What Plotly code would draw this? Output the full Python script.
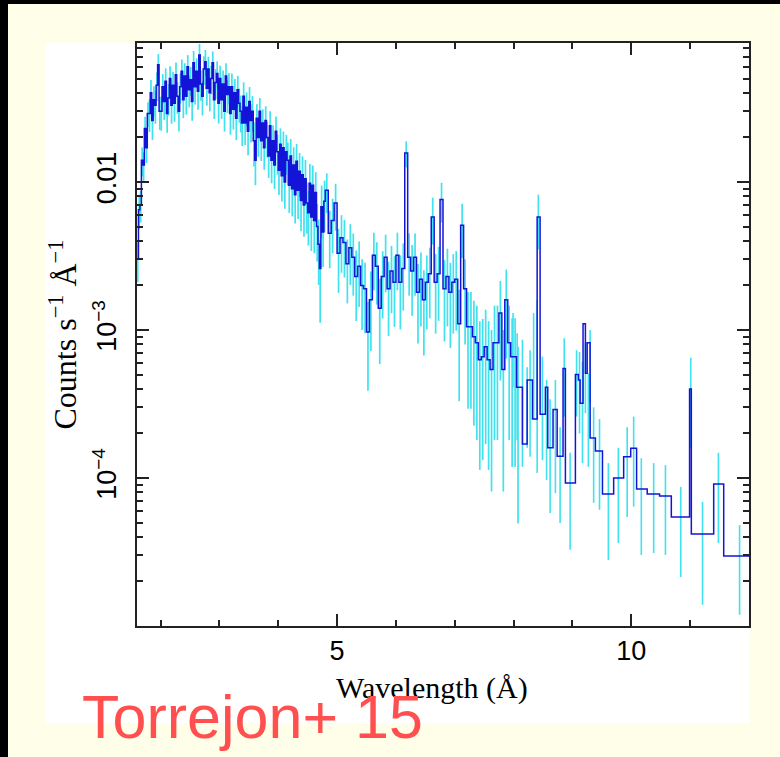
import plotly.graph_objects as go

# ---------------- data ----------------
# bin edges in Angstrom (last entry = right edge of the last bin)
bin_edges = [
    1.600, 1.625, 1.650, 1.675, 1.700, 1.725, 1.750, 1.775,
    1.800, 1.825, 1.850, 1.875, 1.900, 1.925, 1.950, 1.975,
    2.000, 2.025, 2.050, 2.075, 2.100, 2.125, 2.150, 2.175,
    2.200, 2.225, 2.250, 2.275, 2.300, 2.325, 2.350, 2.375,
    2.400, 2.425, 2.450, 2.475, 2.500, 2.525, 2.550, 2.575,
    2.600, 2.625, 2.650, 2.675, 2.700, 2.725, 2.750, 2.775,
    2.800, 2.825, 2.850, 2.875, 2.900, 2.925, 2.950, 2.975,
    3.000, 3.025, 3.050, 3.075, 3.100, 3.125, 3.150, 3.175,
    3.200, 3.225, 3.250, 3.275, 3.300, 3.325, 3.350, 3.375,
    3.400, 3.425, 3.450, 3.475, 3.500, 3.525, 3.550, 3.575,
    3.600, 3.625, 3.650, 3.675, 3.700, 3.725, 3.750, 3.775,
    3.800, 3.825, 3.850, 3.875, 3.900, 3.925, 3.950, 3.975,
    4.000, 4.025, 4.050, 4.075, 4.100, 4.125, 4.150, 4.175,
    4.200, 4.225, 4.250, 4.275, 4.300, 4.325, 4.350, 4.375,
    4.400, 4.425, 4.450, 4.475, 4.500, 4.525, 4.550, 4.575,
    4.600, 4.625, 4.650, 4.675, 4.700, 4.725, 4.750, 4.775,
    4.80, 4.85, 4.90, 4.95, 5.00, 5.05,
    5.10, 5.15, 5.20, 5.25, 5.30, 5.35, 5.40, 5.45, 5.50, 5.55,
    5.60, 5.65, 5.70, 5.75, 5.80, 5.85, 5.90, 5.95, 6.00, 6.05,
    6.10, 6.15, 6.20, 6.25, 6.30, 6.35, 6.40, 6.45, 6.50, 6.55,
    6.60, 6.65, 6.70, 6.75, 6.80, 6.85, 6.90, 6.95, 7.00, 7.05,
    7.10, 7.15, 7.20, 7.25, 7.30, 7.35, 7.40, 7.45, 7.50, 7.55,
    7.60, 7.65, 7.70, 7.75, 7.80, 7.85, 7.90, 7.95, 8.00, 8.05,
    8.10, 8.15, 8.23, 8.32, 8.40, 8.45, 8.54, 8.58, 8.67, 8.74,
    8.84, 8.88, 9.05, 9.10, 9.13, 9.18, 9.22, 9.25, 9.30, 9.39,
    9.51, 9.70, 9.87, 9.99, 10.09, 10.27, 10.48, 10.68, 10.99, 11.02,
    11.40, 11.57, 12.00,
]

# binned count rate per bin (counts s^-1 A^-1)
bin_counts = [
    0.0030, 0.0065, 0.0070, 0.0140, 0.0130, 0.0230, 0.0170, 0.0290,
    0.0290, 0.0400, 0.0260, 0.0360, 0.0330, 0.0450, 0.0620, 0.0300,
    0.0300, 0.0440, 0.0350, 0.0480, 0.0290, 0.0370, 0.0500, 0.0330,
    0.0450, 0.0340, 0.0530, 0.0380, 0.0300, 0.0440, 0.0560, 0.0360,
    0.0520, 0.0380, 0.0600, 0.0420, 0.0490, 0.0350, 0.0640, 0.0440,
    0.0560, 0.0410, 0.0720, 0.0460, 0.0380, 0.0580, 0.0650, 0.0430,
    0.0580, 0.0400, 0.0500, 0.0640, 0.0360, 0.0470, 0.0540, 0.0340,
    0.0500, 0.0360, 0.0460, 0.0300, 0.0520, 0.0390, 0.0440, 0.0290,
    0.0440, 0.0310, 0.0400, 0.0270, 0.0420, 0.0340, 0.0300, 0.0250,
    0.0380, 0.0250, 0.0320, 0.0220, 0.0350, 0.0260, 0.0300, 0.0190,
    0.0140, 0.0270, 0.0200, 0.0300, 0.0190, 0.0250, 0.0170, 0.0260,
    0.0200, 0.0150, 0.0240, 0.0140, 0.0190, 0.0130, 0.0220, 0.0160,
    0.0120, 0.0180, 0.0110, 0.0170, 0.0100, 0.0160, 0.0140, 0.0095,
    0.0150, 0.0090, 0.0130, 0.0082, 0.0138, 0.0088, 0.0118, 0.0075,
    0.0112, 0.0070, 0.0105, 0.0072, 0.0062, 0.0098, 0.0058, 0.0095,
    0.0055, 0.0085, 0.0050, 0.0038, 0.0026, 0.0068, 0.0046, 0.0074,
    0.0088, 0.0045, 0.0055, 0.0072, 0.0033, 0.0042,
    0.0039, 0.0028, 0.0036, 0.0031, 0.0023, 0.0027, 0.0020, 0.0019, 0.00097, 0.0016,
    0.0032, 0.0027, 0.0014, 0.0023, 0.0031, 0.0019, 0.0025, 0.0021, 0.0032, 0.0021,
    0.0026, 0.0157, 0.0031, 0.0025, 0.0031, 0.0018, 0.0022, 0.0016, 0.0021, 0.0024,
    0.0058, 0.0021, 0.0024, 0.0076, 0.0019, 0.0023, 0.0018, 0.0021, 0.0022, 0.0011,
    0.0051, 0.0019, 0.00105, 0.00105, 0.0009, 0.00082, 0.00063, 0.00066, 0.00077, 0.00063,
    0.00054, 0.00082, 0.00082, 0.0013, 0.00054, 0.0016, 0.00082, 0.00066, 0.00066, 0.00041,
    0.00041, 0.00017, 0.00046, 0.00025, 0.0058, 0.00027, 0.00041, 0.00016, 0.00029, 0.00014,
    0.00055, 0.0000925, 0.0005, 0.00046, 0.00032, 0.0011, 0.00051, 0.00082, 0.000186, 0.000152,
    0.000078, 0.0001, 0.000139, 0.000159, 0.0000843, 0.000078, 0.0000756, 0.0000545, 0.0004, 0.0000419,
    0.0000911, 0.0000297,
]

# relative 1-sigma error of the finely binned part (first 194 bins, up to 8.10 A)
bin_rel_err = [
    0.30, 0.26, 0.24, 0.22, 0.22, 0.20, 0.21, 0.19,
    0.25, 0.22, 0.26, 0.23, 0.25, 0.22, 0.18, 0.25,
    0.26, 0.22, 0.25, 0.22, 0.26, 0.24, 0.21, 0.25,
    0.23, 0.25, 0.21, 0.24, 0.27, 0.23, 0.20, 0.25,
    0.22, 0.25, 0.20, 0.24, 0.22, 0.26, 0.20, 0.24,
    0.22, 0.25, 0.19, 0.23, 0.26, 0.22, 0.20, 0.24,
    0.21, 0.25, 0.22, 0.19, 0.26, 0.23, 0.21, 0.27,
    0.22, 0.26, 0.23, 0.27, 0.22, 0.25, 0.24, 0.28,
    0.23, 0.27, 0.24, 0.29, 0.24, 0.26, 0.28, 0.30,
    0.24, 0.29, 0.26, 0.31, 0.25, 0.29, 0.27, 0.33,
    0.32, 0.24, 0.26, 0.23, 0.27, 0.24, 0.29, 0.25,
    0.27, 0.29, 0.25, 0.30, 0.27, 0.31, 0.26, 0.30,
    0.32, 0.28, 0.33, 0.29, 0.34, 0.30, 0.32, 0.35,
    0.30, 0.35, 0.32, 0.36, 0.31, 0.36, 0.33, 0.38,
    0.33, 0.39, 0.34, 0.38, 0.40, 0.35, 0.41, 0.36,
    0.40, 0.37, 0.42, 0.47, 0.57, 0.39, 0.42, 0.38,
    0.30, 0.42, 0.40, 0.35, 0.46, 0.42,
    0.42, 0.46, 0.44, 0.45, 0.50, 0.47, 0.50, 0.50, 0.60, 0.55,
    0.42, 0.45, 0.58, 0.48, 0.42, 0.52, 0.48, 0.50, 0.42, 0.52,
    0.48, 0.20, 0.45, 0.50, 0.45, 0.55, 0.52, 0.58, 0.52, 0.50,
    0.35, 0.55, 0.52, 0.30, 0.56, 0.54, 0.58, 0.55, 0.55, 0.70,
    0.40, 0.58, 0.72, 0.72, 0.75, 0.78, 0.82, 0.80, 0.78, 0.82,
    0.85, 0.78, 0.78, 0.65, 0.85, 0.60, 0.78, 0.82, 0.82, 0.88,
]

# individual data points at long wavelengths: lower / upper error limits
point_wl = [7.99, 8.06, 8.15, 8.23, 8.28, 8.34, 8.40, 8.42, 8.49, 8.56,
            8.62, 8.71, 8.79, 8.86, 8.96, 9.07, 9.12, 9.17, 9.22, 9.27,
            9.30, 9.36, 9.46, 9.61, 9.78, 9.93, 10.04, 10.17, 10.38, 10.58,
            10.84, 11.01, 11.21, 11.48, 11.84]
point_lo = [4.1e-4, 1.8e-4, 1.19e-4, 1.6e-4, 1.39e-4, 2.5e-4, 1.08e-4, 3.5e-3, 1.32e-4, 9.7e-5,
            5.8e-5, 7.9e-5, 4.97e-5, 2.6e-4, 3.27e-5, 2.6e-4, 2.0e-4, 1.26e-4, 2.75e-4, 1.19e-4,
            3.2e-4, 6.8e-5, 6.1e-5, 2.79e-5, 3.64e-5, 5.45e-5, 6.4e-5, 3.02e-5, 3.11e-5, 3.02e-5,
            2.14e-5, 1.6e-4, 1.39e-5, 3.64e-5, 1.19e-5]
point_hi = [1.30e-3, 9.5e-4, 8.6e-4, 5.6e-4, 7.3e-4, 1.30e-3, 1.6e-3, 8.2e-3, 6.6e-4, 4.6e-4,
            3.4e-4, 4.6e-4, 2.2e-4, 8.8e-4, 1.48e-4, 7.3e-4, 7.1e-4, 6.1e-4, 8.2e-4, 5.1e-4,
            1.0e-3, 3.0e-4, 2.5e-4, 1.26e-4, 1.6e-4, 2.2e-4, 2.6e-4, 1.36e-4, 1.26e-4, 1.22e-4,
            8.7e-5, 6.5e-4, 6.9e-5, 1.48e-4, 4.81e-5]

x_tick_vals = [5, 10]
x_tick_text = ["5", "10"]
x_minor_vals = [2, 3, 4, 6, 7, 8, 9, 11]
y_tick_vals = [1e-4, 1e-3, 1e-2]
y_tick_text = ["10<sup>\u22124</sup>", "10<sup>\u22123</sup>", "0.01"]
y_minor_vals = [2e-5, 3e-5, 4e-5, 5e-5, 6e-5, 7e-5, 8e-5, 9e-5,
                2e-4, 3e-4, 4e-4, 5e-4, 6e-4, 7e-4, 8e-4, 9e-4,
                2e-3, 3e-3, 4e-3, 5e-3, 6e-3, 7e-3, 8e-3, 9e-3,
                2e-2, 3e-2, 4e-2, 5e-2, 6e-2, 7e-2, 8e-2]

# ---------------- derived for plotting ----------------
n_fine = len(bin_rel_err)
fine_centers = [(bin_edges[i] + bin_edges[i + 1]) / 2 for i in range(n_fine)]
fine_vals = bin_counts[:n_fine]
fine_err = [v * r for v, r in zip(fine_vals, bin_rel_err)]
pt_center = [(lo + hi) / 2 for lo, hi in zip(point_lo, point_hi)]
pt_err = [(hi - lo) / 2 for lo, hi in zip(point_lo, point_hi)]
step_y = bin_counts + [bin_counts[-1]]

CYAN = "#3fe2ee"
BLUE = "#1414d8"

fig = go.Figure()
fig.add_trace(go.Scatter(
    x=fine_centers, y=fine_vals, mode="markers",
    marker=dict(size=1, color="rgba(0,0,0,0)"),
    error_y=dict(type="data", array=fine_err, symmetric=True, color=CYAN, thickness=1.7, width=0),
    hoverinfo="skip", showlegend=False))
fig.add_trace(go.Scatter(
    x=point_wl, y=pt_center, mode="markers",
    marker=dict(size=1, color="rgba(0,0,0,0)"),
    error_y=dict(type="data", array=pt_err, symmetric=True, color=CYAN, thickness=1.6, width=0),
    hoverinfo="skip", showlegend=False))
fig.add_trace(go.Scatter(
    x=bin_edges, y=step_y, mode="lines", line=dict(shape="hv", color=BLUE, width=1.5),
    hoverinfo="skip", showlegend=False))

W, H = 780, 757
L, R, T, B = 137, 749, 43, 626
pw, ph = R - L, B - T


def px(x):
    return (x - L) / pw


def py(y):
    return (B - y) / ph


shapes = [
    dict(type="rect", xref="paper", yref="paper", x0=px(8), x1=px(790), y0=py(770), y1=py(4),
         fillcolor="#fffee8", line=dict(width=0), layer="below"),
    dict(type="rect", xref="paper", yref="paper", x0=px(46), x1=px(750), y0=py(723), y1=py(43),
         fillcolor="#ffffff", line=dict(width=0), layer="below"),
]

axis_common = dict(
    showline=True, linecolor="#222222", linewidth=1.5, mirror="ticks",
    ticks="inside", ticklen=12, tickwidth=1.5, tickcolor="#222222",
    showgrid=False, zeroline=False,
    tickfont=dict(family="Liberation Sans, Arial, sans-serif", size=27, color="#000000"),
)

fig.update_layout(
    width=W, height=H,
    margin=dict(l=L, r=W - R, t=T, b=H - B, pad=0),
    paper_bgcolor="#000000", plot_bgcolor="#ffffff",
    shapes=shapes,
    xaxis=dict(range=[1.6, 12.0], tickmode="array", tickvals=x_tick_vals, ticktext=x_tick_text,
               minor=dict(tickmode="array", tickvals=x_minor_vals, ticks="inside", ticklen=6,
                          tickwidth=1.5, tickcolor="#222222", showgrid=False),
               **axis_common),
    yaxis=dict(type="log", range=[-5, -1.061], tickmode="array", tickvals=y_tick_vals,
               ticktext=y_tick_text, tickangle=-90, ticklabelstandoff=8,
               minor=dict(tickmode="array", tickvals=y_minor_vals, ticks="inside", ticklen=6,
                          tickwidth=1.5, tickcolor="#222222", showgrid=False),
               **axis_common),
    annotations=[
        dict(text="Counts s<sup>\u22121</sup> \u00c5<sup>\u22121</sup>", xref="paper", yref="paper",
             x=px(62), y=0.5, textangle=-90, showarrow=False, xanchor="center", yanchor="middle",
             font=dict(family="Liberation Serif, Times New Roman, serif", size=32, color="#000000")),
        dict(text="Wavelength (\u00c5)", xref="paper", yref="paper",
             x=px(432), y=py(688), showarrow=False, xanchor="center", yanchor="middle",
             font=dict(family="Liberation Serif, Times New Roman, serif", size=30, color="#000000")),
        dict(text="Torrejon+ 15", xref="paper", yref="paper",
             x=px(80), y=py(717), showarrow=False, xanchor="left", yanchor="middle",
             font=dict(family="Liberation Sans, Arial, sans-serif", size=61, color="#ff4f4f")),
    ],
)

fig.write_html("out.html")
